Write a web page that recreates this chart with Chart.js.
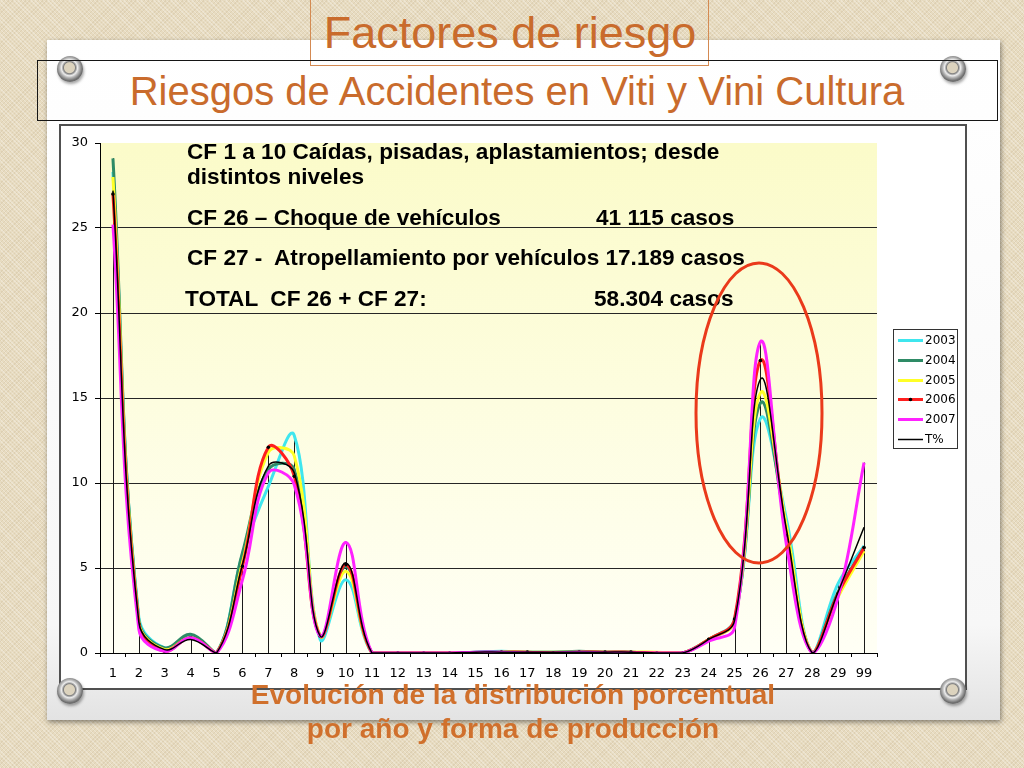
<!DOCTYPE html>
<html>
<head>
<meta charset="utf-8">
<script src="https://cdn.jsdelivr.net/npm/chart.js@4.4.1/dist/chart.umd.min.js"></script>
<style>
  html, body { margin:0; padding:0; }
  body {
    width:1024px; height:768px; position:relative; overflow:hidden;
    background-color:#E7DBC0;
    background-image:
      repeating-linear-gradient(45deg, rgba(255,255,255,0.28) 0 1px, transparent 1px 3px),
      repeating-linear-gradient(-45deg, rgba(140,110,60,0.10) 0 1px, transparent 1px 3px);
    font-family: "Liberation Sans", Arial, sans-serif;
  }
  .abs { position:absolute; }
  #panel {
    left:47px; top:40px; width:953px; height:680px;
    background: linear-gradient(to bottom, #FFFFFF 0%, #F7F7F7 86%, #E3E3E3 100%);
    box-shadow: 1px 2px 5px rgba(0,0,0,0.45);
  }
  .grommet {
    width:26px; height:26px; border-radius:50%;
    background: radial-gradient(circle at 48% 45%, #DCD3BE 0 5px, #7f7f7f 6px, #ededed 8px, #b4b4b4 10px, #6f6f6f 13px);
    box-shadow: 1px 2px 3px rgba(0,0,0,0.35);
  }
  #titleBox { left:310px; top:-1px; width:397px; height:65px; border:1px solid #D48A52; }
  #title { left:0; width:1020px; top:10px; text-align:center; font-size:45px; line-height:45px; color:#C96B2C; white-space:pre; }
  #subBox { left:37px; top:60px; width:959px; height:59px; border:1px solid #151515; }
  #subtitle { left:0; width:1034px; top:71px; text-align:center; font-size:40px; line-height:40px; color:#C96B2C; white-space:pre; }
  #chartBox { left:59px; top:124px; width:908px; height:566px; box-sizing:border-box; border:2px solid #505050; background:#fff; }
  #chart { left:61px; top:126px; }
  .note { font-weight:bold; font-size:22.6px; line-height:22px; color:#000; white-space:pre; }
  .foot { left:0; width:1026px; text-align:center; font-weight:bold; font-size:28px; line-height:28px; color:#D0702C; white-space:pre; }
  #ellipse { left:0; top:0; }
</style>
</head>
<body>
<div id="panel" class="abs"></div>
<div class="abs grommet" style="left:57px; top:56px;"></div>
<div class="abs grommet" style="left:940px; top:56px;"></div>

<div id="titleBox" class="abs"></div>
<div id="title" class="abs">Factores de riesgo</div>
<div id="subBox" class="abs"></div>
<div id="subtitle" class="abs">Riesgos de Accidentes en Viti y Vini Cultura</div>

<div id="chartBox" class="abs"></div>
<canvas id="chart" class="abs" width="904" height="562" style="width:904px;height:562px;"></canvas>

<div class="abs grommet" style="left:57px; top:678px;"></div>
<div class="abs grommet" style="left:940px; top:678px;"></div>

<div class="abs note" style="left:187px; top:141px;">CF 1 a 10 Caídas, pisadas, aplastamientos; desde</div>
<div class="abs note" style="left:187px; top:166px;">distintos niveles</div>
<div class="abs note" style="left:187px; top:207px;">CF 26 – Choque de vehículos</div>
<div class="abs note" style="left:596px; top:207px;">41 115 casos</div>
<div class="abs note" style="left:187px; top:247px;">CF 27 -  Atropellamiento por vehículos 17.189 casos</div>
<div class="abs note" style="left:185px; top:288px;">TOTAL  CF 26 + CF 27:</div>
<div class="abs note" style="left:594px; top:288px;">58.304 casos</div>

<svg id="ellipse" class="abs" width="1024" height="768">
  <ellipse cx="759" cy="413" rx="63" ry="150" fill="none" stroke="#EA3A1B" stroke-width="3"/>
</svg>

<div class="abs foot" style="top:681px;">Evolución de la distribución porcentual</div>
<div class="abs foot" style="top:715px;">por año y forma de producción</div>

<script>
// ---- data ----
const categories = ['1','2','3','4','5','6','7','8','9','10','11','12','13','14','15','16','17','18','19','20','21','22','23','24','25','26','27','28','29','99'];
const yTickValues = [0, 5, 10, 15, 20, 25, 30];
const seriesLabels = ['2003', '2004', '2005', '2006', '2007', 'T%'];
const s2003 = [28.3, 2.1, 0.3, 1.0, 0, 5.8, 9.8, 12.8, 0.8, 4.3, 0, 0, 0, 0, 0.05, 0.1, 0.05, 0.05, 0.05, 0.05, 0.05, 0, 0, 0.8, 2.0, 13.8, 7.9, 0, 4.1, 6.3];
const s2004 = [29.1, 1.9, 0.3, 1.1, 0, 5.9, 10.8, 10.8, 1.0, 5.1, 0, 0, 0, 0, 0.05, 0.05, 0.05, 0.05, 0.1, 0.05, 0.05, 0, 0, 0.8, 1.9, 14.7, 7.3, 0, 3.6, 6.2];
const s2005 = [28.0, 1.8, 0.2, 0.9, 0, 5.3, 11.8, 11.6, 1.0, 4.8, 0, 0, 0, 0, 0, 0.05, 0.05, 0.05, 0.05, 0.05, 0.05, 0.05, 0, 0.8, 1.9, 15.3, 7.5, 0, 3.3, 6.0];
const s2006 = [27.0, 1.7, 0.1, 0.9, 0, 5.1, 12.1, 10.4, 1.0, 5.2, 0, 0, 0, 0, 0, 0.05, 0.05, 0, 0.05, 0.05, 0.05, 0, 0, 0.8, 2.0, 17.2, 6.9, 0, 3.5, 6.2];
const s2007 = [25.2, 1.4, 0.1, 0.9, 0, 4.3, 10.6, 9.9, 1.0, 6.5, 0, 0, 0, 0, 0.05, 0.05, 0, 0, 0.05, 0, 0, 0, 0, 0.7, 1.5, 18.3, 6.4, 0, 3.3, 11.2];
const sTotal = [27.2, 1.8, 0.2, 0.8, 0, 5.2, 11.0, 10.6, 1.0, 5.3, 0, 0, 0, 0, 0.05, 0.05, 0.05, 0.05, 0.05, 0.05, 0.05, 0, 0, 0.8, 1.9, 16.1, 7.3, 0, 3.6, 7.4];

const seriesColors = ['#3FE6EE', '#2E8B66', '#FFFF26', '#FF1E1E', '#FF22FF', '#000000'];
const seriesData = [s2003, s2004, s2005, s2006, s2007, sTotal];

// plot background (light yellow gradient)
const plotBg = {
  id: 'plotBg',
  beforeDraw(chart) {
    const { ctx, chartArea: a } = chart;
    const g = ctx.createLinearGradient(0, a.top, 0, a.bottom);
    g.addColorStop(0, '#FBFBC9');
    g.addColorStop(1, '#FFFFF5');
    ctx.save();
    ctx.fillStyle = g;
    ctx.fillRect(a.left, a.top, a.right - a.left, a.bottom - a.top);
    ctx.restore();
  }
};

// Excel-style drop lines from the highest series value to the axis
const dropLines = {
  id: 'dropLines',
  beforeDatasetsDraw(chart) {
    const { ctx, scales: { x, y } } = chart;
    ctx.save();
    ctx.strokeStyle = '#1a1a1a';
    ctx.lineWidth = 1;
    categories.forEach((c, i) => {
      const max = Math.max(...chart.data.datasets.map(d => d.data[i]));
      if (max <= 0.3) return;
      const px = Math.round(x.getPixelForValue(i)) + 0.5;
      ctx.beginPath();
      ctx.moveTo(px, y.getPixelForValue(max));
      ctx.lineTo(px, y.getPixelForValue(0));
      ctx.stroke();
    });
    ctx.restore();
  }
};

// boxed legend at the right, like the Excel legend
const boxLegend = {
  id: 'boxLegend',
  afterDraw(chart) {
    const { ctx, chartArea: a } = chart;
    const bx = a.right + 16, by = a.top + 186, bw = 64, bh = 119;
    ctx.save();
    ctx.fillStyle = '#ffffff';
    ctx.fillRect(bx, by, bw, bh);
    ctx.strokeStyle = '#333';
    ctx.lineWidth = 1;
    ctx.strokeRect(bx + 0.5, by + 0.5, bw, bh);
    ctx.font = '12px "DejaVu Sans"';
    ctx.textBaseline = 'middle';
    chart.data.datasets.forEach((ds, i) => {
      const cy = Math.round(by + 11 + i * 19.8) + 0.5;
      ctx.strokeStyle = ds.borderColor;
      ctx.lineWidth = ds.borderWidth;
      ctx.beginPath();
      ctx.moveTo(bx + 5, cy);
      ctx.lineTo(bx + 30, cy);
      ctx.stroke();
      if (ds.pointRadius > 0) {
        ctx.fillStyle = '#000';
        ctx.beginPath();
        ctx.arc(bx + 17.5, cy, 1.8, 0, Math.PI * 2);
        ctx.fill();
      }
      ctx.fillStyle = '#000';
      ctx.fillText(ds.label, bx + 32, cy + 0.5);
    });
    ctx.restore();
  }
};

const datasets = seriesLabels.map((lab, i) => ({
  label: lab,
  data: seriesData[i],
  borderColor: seriesColors[i],
  backgroundColor: seriesColors[i],
  borderWidth: i === 5 ? 1.5 : 3,
  tension: 0.4,
  fill: false,
  pointRadius: i === 3 ? 1.8 : 0,
  pointBackgroundColor: '#000',
  pointBorderColor: '#000',
  pointBorderWidth: 0,
  order: 5 - i
}));

new Chart(document.getElementById('chart'), {
  type: 'line',
  data: { labels: categories, datasets },
  options: {
    responsive: false,
    animation: false,
    devicePixelRatio: 1,
    layout: { padding: { top: 17, right: 88, bottom: 0, left: 0 } },
    plugins: { legend: { display: false }, tooltip: { enabled: false } },
    scales: {
      x: {
        offset: true,
        afterFit(s) { s.height = 35; },
        grid: { offset: true, drawOnChartArea: false, drawTicks: true, tickLength: 4, tickColor: '#000' },
        border: { display: true, color: '#000', width: 1 },
        ticks: { color: '#000', font: { family: 'DejaVu Sans', size: 13 }, padding: 9, maxRotation: 0, autoSkip: false }
      },
      y: {
        min: 0, max: 30,
        afterFit(s) { s.width = 39; },
        afterBuildTicks(s) { s.ticks = yTickValues.map(v => ({ value: v })); },
        grid: {
          color: (c) => (c.tick && c.tick.value === 30) ? 'rgba(0,0,0,0)' : '#262626',
          tickColor: '#000', tickLength: 5, drawTicks: true
        },
        border: { display: true, color: '#000', width: 1 },
        ticks: { color: '#000', font: { family: 'DejaVu Sans', size: 13 }, padding: 7 }
      }
    }
  },
  plugins: [plotBg, dropLines, boxLegend]
});
</script>
</body>
</html>
